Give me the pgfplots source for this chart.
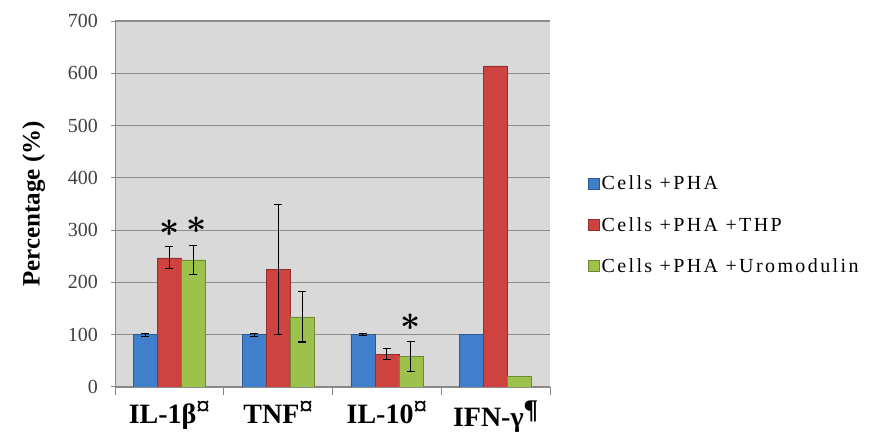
\documentclass[border=0pt]{standalone}
\usepackage{pgfplots}
\pgfplotsset{compat=1.18}
\usepackage{fontspec}
\setmainfont{Liberation Serif}
\newfontfamily\legfont[LetterSpace=12]{Liberation Serif}
\definecolor{bggray}{HTML}{D9D9D9}
\definecolor{gridgray}{HTML}{8C8C8C}
\definecolor{axgray}{HTML}{868686}
\definecolor{bM}{HTML}{3F7FCC}
\definecolor{rM}{HTML}{CE4340}
\definecolor{gM}{HTML}{9DC24C}
\newcommand{\supmark}[1]{\raisebox{0.3em}{\fontsize{27}{27}\selectfont\bfseries #1}}
\begin{document}
\begin{tikzpicture}
\useasboundingbox (0pt,0pt) rectangle (870pt,439pt);
\begin{axis}[
  at={(115pt,52pt)}, anchor=south west,
  scale only axis, width=435pt, height=366pt,
  xmin=-0.5, xmax=3.5, ymin=0, ymax=700,
  ytick={0,100,...,700},
  xtick={0,1,2,3},
  xticklabels={{\textbf{IL-1β}\supmark{¤}},{\textbf{TNF}\supmark{¤}},{\textbf{IL-10}\supmark{¤}},{\textbf{IFN-γ}\supmark{¶}}},
  minor xtick={-0.5,0.5,1.5,2.5,3.5},
  major x tick style={draw=none},
  minor x tick style={draw=axgray, line width=1pt},
  minor tick length=8pt,
  major tick length=7pt,
  tick align=outside,
  axis x line=bottom, axis y line=left,
  axis line style={-, draw=axgray, line width=1pt},
  y tick style={draw=axgray, line width=1pt},
  axis background/.style={fill=bggray},
  ymajorgrids, grid style={draw=gridgray, line width=1.2pt},
  /pgf/number format/assume math mode=true,
  yticklabel style={font=\fontsize{20}{20}\selectfont, text=black!75, xshift=-10pt},
  xticklabel style={font=\fontsize{28}{28}\selectfont, yshift=-3pt},
  ylabel={\textbf{Percentage (\%)}},
  ylabel style={font=\fontsize{25}{25}\selectfont, yshift=16pt},
  ybar=0pt, bar width=24pt,
  legend style={at={(1.087,0.443)}, anchor=west, draw=none, fill=none,
    font=\legfont\fontsize{20}{20}\selectfont, row sep=22pt, inner sep=0pt,
    /tikz/every even column/.append style={column sep=0pt}},
  legend cell align=left,
  legend image code/.code={\fill[#1] (0pt,-5.5pt) rectangle (11pt,5.5pt);},
]
\addplot[fill=bM, draw=bM!70!black, line width=0.5pt]
  coordinates {(0,100) (1,100) (2,100) (3,100)};
\addplot[fill=rM, draw=rM!70!black, line width=0.5pt]
  coordinates {(0,247) (1,225) (2,63) (3,614)};
\addplot[fill=gM, draw=gM!70!black, line width=0.5pt]
  coordinates {(0,243) (1,134) (2,58) (3,20)};
\legend{Cells +PHA, Cells +PHA +THP, Cells +PHA +Uromodulin}
% error bars (only where shown in the reference)
\addplot[sharp plot, forget plot, draw=none, mark=none, update limits=false,
  bar shift=0pt,
  error bars/.cd, y dir=both, y explicit,
  error bar style={black, line width=1.1pt},
  error mark options={rotate=90, mark size=4pt, line width=1.1pt, black}]
  coordinates {(-0.2207,100) +- (0,3) (0.7793,100) +- (0,3) (1.7793,100) +- (0,2)
               (0,247) +- (0,21) (1,225) +- (0,124) (2,63) +- (0,11)
               (0.2207,243) +- (0,28) (1.2207,134) +- (0,48) (2.2207,58) +- (0,29)};
\node[inner sep=0pt] at (axis cs:0,304) {\scalebox{3.5}{\boldmath$\ast$}};
\node[inner sep=0pt] at (axis cs:0.25,310) {\scalebox{3.5}{\boldmath$\ast$}};
\node[inner sep=0pt] at (axis cs:2.22,124) {\scalebox{3.5}{\boldmath$\ast$}};
\end{axis}
\end{tikzpicture}
\end{document}
